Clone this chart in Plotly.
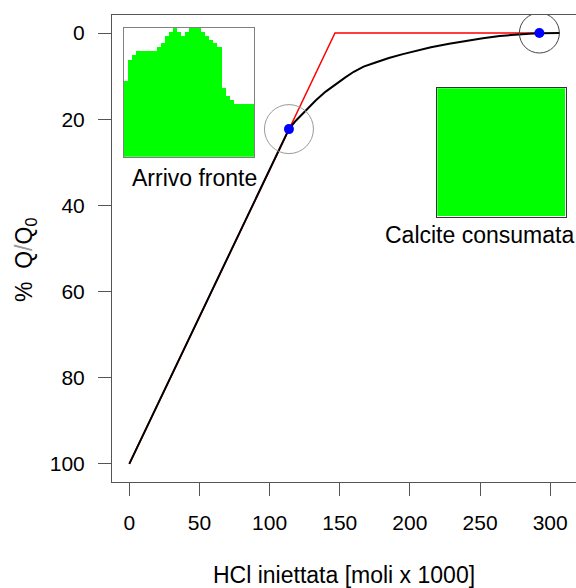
import plotly.graph_objects as go

# ---- data ----
hcl_black = [0, 113.8, 118, 122, 127, 133, 140, 147, 154, 160, 167, 175, 185, 195,
             205, 215, 228, 240, 252, 264, 275, 285, 292.7, 306.9]
q_black = [100, 22.3, 20.6, 19.2, 17.5, 15.6, 13.6, 11.9, 10.3, 9.0, 7.8, 6.9, 5.8, 4.9,
           4.1, 3.3, 2.5, 1.8, 1.2, 0.7, 0.35, 0.15, 0.05, 0]

hcl_red = [0, 113.8, 146.6, 292.7]
q_red = [100, 22.3, 0, 0]

hcl_dots = [113.8, 292.3]
q_dots = [22.3, 0]

x_ticks = [0, 50, 100, 150, 200, 250, 300]
y_ticks = [0, 20, 40, 60, 80, 100]

# dissolution profile at front arrival (32 cells, % height)
front_profile = [59, 75, 79, 82, 82, 82, 82, 82, 85, 88, 94, 97, 100, 97, 94, 97,
                 100, 100, 100, 97, 94, 91, 88, 85, 53, 47, 44, 41, 41, 41, 41, 41]
# final profile: calcite fully consumed
final_profile = [100, 100, 100, 100, 100, 100, 100, 100, 100, 100, 100, 100, 100, 100, 100, 100,
                 100, 100, 100, 100, 100, 100, 100, 100, 100, 100, 100, 100, 100, 100, 100, 100]

FONT = "Liberation Sans"

fig = go.Figure()

fig.add_trace(go.Scatter(x=hcl_red, y=q_red, mode="lines",
                         line=dict(color="#FF0000", width=1.5), showlegend=False))
fig.add_trace(go.Scatter(x=hcl_black, y=q_black, mode="lines",
                         line=dict(color="#000000", width=2), showlegend=False))
fig.add_trace(go.Scatter(x=hcl_dots, y=q_dots, mode="markers",
                         marker=dict(color="#0000FF", size=10), showlegend=False))

cells = [i + 0.5 for i in range(len(front_profile))]
fig.add_trace(go.Bar(x=cells, y=front_profile, xaxis="x2", yaxis="y2", width=1,
                     marker=dict(color="#00FF00", line=dict(width=0)), showlegend=False))
fig.add_trace(go.Bar(x=cells, y=final_profile, xaxis="x3", yaxis="y3", width=1,
                     marker=dict(color="#00FF00", line=dict(width=0)), showlegend=False))

# circles around the dots (pixel-sized)
radii = [24.5, 20]
ccols = ["#9a9a9a", "#444444"]
for xd, yd, r, c in zip(hcl_dots, q_dots, radii, ccols):
    fig.add_shape(type="circle", xref="x", yref="y", xsizemode="pixel", ysizemode="pixel",
                  xanchor=xd, yanchor=yd, x0=-r, x1=r, y0=-r, y1=r,
                  line=dict(color=c, width=1))

# inset background
fig.add_shape(type="rect", xref="x2 domain", yref="y2 domain", x0=0, x1=1, y0=0, y1=1,
              fillcolor="#E5E5E5", line=dict(width=0), layer="below")

W, H = 576, 588
L, T = 112, 15
BOT = 482
B = H - BOT
R = 0
pw, ph = W - L - R, H - T - B

def px(xp):
    return (xp - L) / pw

def py(yp):
    return (BOT - yp) / ph

axis_common = dict(showgrid=False, zeroline=False, showline=True, linecolor="#555555",
                   linewidth=1, ticks="outside", ticklen=13, tickcolor="#555555",
                   tickfont=dict(family=FONT, size=21, color="#000000"))

fig.update_layout(
    width=W, height=H,
    margin=dict(l=L, r=R, t=T, b=B),
    paper_bgcolor="white", plot_bgcolor="white",
    bargap=0,
    xaxis=dict(range=[-12.33, 318.4], tickvals=x_ticks, mirror=True,
               ticklabelstandoff=9, **axis_common),
    yaxis=dict(range=[104.2, -4.18], tickvals=y_ticks, mirror=False,
               ticklabelstandoff=9, **axis_common),
    xaxis2=dict(domain=[px(124), px(254)], anchor="y2", range=[0, 32], showgrid=False,
                zeroline=False, showticklabels=False, ticks="", showline=True, mirror=True,
                linecolor="#808080", linewidth=1),
    yaxis2=dict(domain=[py(156.7), py(28)], anchor="x2", range=[0, 100], showgrid=False,
                zeroline=False, showticklabels=False, ticks="", showline=True, mirror=True,
                linecolor="#808080", linewidth=1),
    xaxis3=dict(domain=[px(437.3), px(565.7)], anchor="y3", range=[0, 32], showgrid=False,
                zeroline=False, showticklabels=False, ticks="", showline=True, mirror=True,
                linecolor="#333333", linewidth=1),
    yaxis3=dict(domain=[py(216.7), py(88.3)], anchor="x3", range=[0, 100], showgrid=False,
                zeroline=False, showticklabels=False, ticks="", showline=True, mirror=True,
                linecolor="#333333", linewidth=1),
)

ann_font = dict(family=FONT, size=23, color="#000000")
fig.add_annotation(x=px(194), y=py(178), xref="paper", yref="paper", text="Arrivo fronte",
                   showarrow=False, xanchor="center", yanchor="middle", font=ann_font)
fig.add_annotation(x=px(479), y=py(235), xref="paper", yref="paper", text="Calcite consumata",
                   showarrow=False, xanchor="center", yanchor="middle", font=ann_font)
fig.add_annotation(x=px(344), y=py(575), xref="paper", yref="paper",
                   text="HCl iniettata [moli x 1000]",
                   showarrow=False, xanchor="center", yanchor="middle", font=ann_font)
fig.add_annotation(x=px(25), y=py(260), xref="paper", yref="paper",
                   text="%  Q<span style='color:#999999'>/</span>Q<sub>0</sub>",
                   textangle=-90, showarrow=False, xanchor="center", yanchor="middle",
                   font=ann_font)

fig.write_html("out.html",
               config={"displayModeBar": False},
               post_script="document.body.style.margin='0';document.body.style.overflow='hidden';")
